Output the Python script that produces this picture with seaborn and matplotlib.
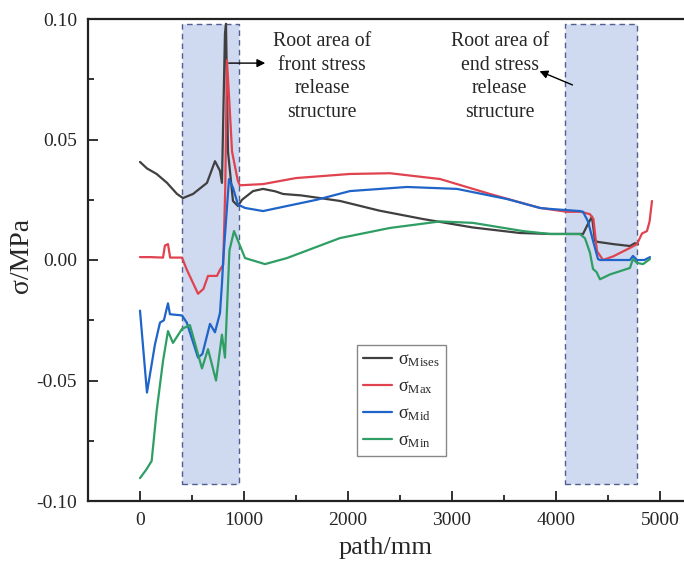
import matplotlib
matplotlib.use("Agg")
import matplotlib.pyplot as plt
import seaborn as sns
import pandas as pd
from matplotlib.patches import Rectangle
from matplotlib.ticker import MultipleLocator

# ---- data ----
mises_x = [0, 67, 160, 260, 356, 413, 510, 644, 721, 769, 788, 817, 827, 846, 894, 942, 981,
           1087, 1183, 1300, 1375, 1550, 1730, 1923, 2300, 2721, 3200, 3654, 3942, 4163, 4260,
           4308, 4346, 4375, 4404, 4550, 4711, 4760, 4790]
mises_y = [0.0407, 0.038, 0.0357, 0.032, 0.0274, 0.0257, 0.0274, 0.032, 0.041, 0.037, 0.032,
           0.094, 0.098, 0.045, 0.0245, 0.0224, 0.025, 0.0286, 0.0295, 0.0285, 0.0274, 0.0268,
           0.0257, 0.0245, 0.0205, 0.017, 0.0135, 0.0112, 0.0108, 0.0108, 0.0108, 0.015, 0.018,
           0.0079, 0.0075, 0.0066, 0.0058, 0.007, 0.0065]

max_x = [0, 100, 221, 240, 269, 290, 404, 450, 558, 610, 654, 700, 740, 770, 800, 820, 836,
         860, 885, 940, 960, 1183, 1500, 2019, 2404, 2885, 3365, 3846, 4106, 4240, 4327, 4360,
         4394, 4452, 4550, 4711, 4779, 4827, 4875, 4900, 4923]
max_y = [0.0012, 0.0012, 0.001, 0.006, 0.0066, 0.001, 0.001, -0.004, -0.014, -0.012, -0.0066,
         -0.0066, -0.0066, -0.004, -0.002, 0.03, 0.083, 0.065, 0.045, 0.033, 0.031, 0.0315, 0.034,
         0.0357, 0.036, 0.0336, 0.0274, 0.0216, 0.020, 0.020, 0.019, 0.017, 0.0037, 0.0, 0.0015,
         0.005, 0.0066, 0.011, 0.012, 0.016, 0.0245]

mid_x = [0, 67, 144, 192, 230, 269, 288, 404, 450, 558, 600, 673, 721, 769, 788, 800, 856, 894,
         942, 1010, 1183, 1413, 1700, 2019, 2567, 3048, 3529, 3846, 3942, 4231, 4260, 4308, 4356,
         4404, 4423, 4711, 4740, 4779, 4850, 4904]
mid_y = [-0.021, -0.055, -0.035, -0.026, -0.025, -0.018, -0.0225, -0.023, -0.026, -0.0405, -0.039,
         -0.0265, -0.030, -0.022, -0.010, 0.0, 0.0336, 0.030, 0.023, 0.0216, 0.0203, 0.0224,
         0.025, 0.0286, 0.0303, 0.0295, 0.0253, 0.0216, 0.0212, 0.0203, 0.020, 0.016, 0.008,
         0.0004, 0.0, 0.0, 0.0017, 0.0, 0.0, 0.0012]

min_x = [0, 60, 112, 160, 221, 269, 317, 404, 480, 596, 654, 731, 788, 817, 860, 904, 942,
         1010, 1202, 1413, 1923, 2404, 2885, 3202, 3683, 3942, 4231, 4279, 4327, 4356, 4390,
         4423, 4519, 4711, 4740, 4779, 4837, 4904]
min_y = [-0.0905, -0.087, -0.0834, -0.0627, -0.042, -0.0295, -0.0344, -0.0286, -0.027, -0.045,
         -0.037, -0.050, -0.031, -0.0405, 0.004, 0.012, 0.008, 0.0008, -0.0017, 0.0008, 0.0091,
         0.0133, 0.016, 0.0154, 0.012, 0.0108, 0.0108, 0.009, 0.003, -0.0037, -0.005, -0.008,
         -0.006, -0.0033, 0.0004, -0.0012, -0.0017, 0.0004]

series_names = [r"$\mathrm{σ}_{\mathrm{Mises}}$", r"$\mathrm{σ}_{\mathrm{Max}}$",
                r"$\mathrm{σ}_{\mathrm{Mid}}$", r"$\mathrm{σ}_{\mathrm{Min}}$"]
series_colors = ["#404040", "#e0434f", "#1f64c8", "#2e9e64"]

regions = [(404, 952), (4087, 4779)]
region_y = (-0.093, 0.098)

x_ticks = [0, 1000, 2000, 3000, 4000, 5000]
y_ticks = [-0.10, -0.05, 0.00, 0.05, 0.10]

front_text = "Root area of\nfront stress\nrelease\nstructure"
end_text = "Root area of\nend stress\nrelease\nstructure"

# ---- build frame ----
frames = []
for name, xs, ys in zip(series_names, [mises_x, max_x, mid_x, min_x],
                        [mises_y, max_y, mid_y, min_y]):
    frames.append(pd.DataFrame({"path": xs, "stress": ys, "series": name}))
df = pd.concat(frames, ignore_index=True)

sns.set_theme(style="ticks")
plt.rcParams["font.family"] = ["Liberation Serif", "DejaVu Serif"]
plt.rcParams["mathtext.fontset"] = "custom"
plt.rcParams["mathtext.rm"] = "Liberation Serif"
plt.rcParams["mathtext.it"] = "Liberation Serif:italic"

fig = plt.figure(figsize=(6.84, 5.69), dpi=100)
ax = fig.add_axes([88 / 684, 1 - 501 / 569, 1 - 88 / 684, (501 - 19) / 569])

for (x0, x1) in regions:
    ax.add_patch(Rectangle((x0, region_y[0]), x1 - x0, region_y[1] - region_y[0],
                           facecolor="#cfd9ef", edgecolor="#4f5f8f", linestyle=(0, (4, 3)),
                           linewidth=1.0, zorder=1))

sns.lineplot(data=df, x="path", y="stress", hue="series", palette=series_colors,
             hue_order=series_names, sort=False, estimator=None, linewidth=1.6, ax=ax,
             zorder=3)

ax.set_xlim(-500, 5231)
ax.set_ylim(-0.10, 0.10)
ax.set_xticks(x_ticks)
ax.set_yticks(y_ticks)
ax.set_yticklabels([f"{v:.2f}" for v in y_ticks])
ax.xaxis.set_minor_locator(MultipleLocator(500))
ax.yaxis.set_minor_locator(MultipleLocator(0.025))
ax.tick_params(which="both", direction="in", labelsize=14, width=1.3, color="#222222")
ax.tick_params(which="major", length=7)
ax.tick_params(which="minor", length=4)
ax.tick_params(axis="both", pad=8)
for s in ["left", "bottom", "top"]:
    ax.spines[s].set_linewidth(1.6)
    ax.spines[s].set_color("#222222")
ax.spines["right"].set_visible(False)

ax.set_xlabel("path/mm", fontsize=19, labelpad=6)
ax.set_ylabel("σ/MPa", fontsize=20)
ax.yaxis.set_label_coords(-(88 - 34) / 596, (501 - 255) / 482)

ax.annotate("", xy=(1231, 0.0817), xytext=(827, 0.0817),
            arrowprops=dict(arrowstyle="-|>", color="black", lw=1.0, mutation_scale=12))
ax.text(1750, 0.0945, front_text, ha="center", va="top", fontsize=14.3, linespacing=1.33)
ax.annotate("", xy=(3817, 0.0788), xytext=(4183, 0.0722),
            arrowprops=dict(arrowstyle="-|>", color="black", lw=1.0, mutation_scale=12))
ax.text(3460, 0.0945, end_text, ha="center", va="top", fontsize=14.3, linespacing=1.33)

leg = ax.legend(loc="upper left", bbox_to_anchor=(0.451, 0.324), fontsize=13, frameon=True,
                fancybox=False, framealpha=1, edgecolor="#888888", handlelength=1.6,
                borderpad=0.35, labelspacing=0.52, handletextpad=0.35, borderaxespad=0,
                title=None)
leg.get_frame().set_linewidth(1.0)

fig.savefig("out.png", dpi=100)
